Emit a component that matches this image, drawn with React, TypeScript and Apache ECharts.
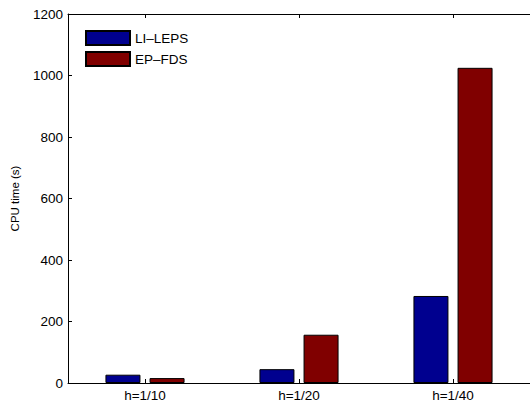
import React, { useEffect, useRef } from "react";
import * as echarts from "echarts";

const categories = ["h=1/10", "h=1/20", "h=1/40"];
const liLeps = [27, 45, 283];
const epFds = [16, 157, 1025];
const yTicks = { min: 0, max: 1200, interval: 200 };

export default function App() {
  const ref = useRef<HTMLDivElement>(null);
  useEffect(() => {
    if (!ref.current) return;
    const chart = echarts.init(ref.current, null, { renderer: "svg" });
    const font = "Liberation Sans, Arial, Helvetica, sans-serif";
    const axisLine = { show: true, lineStyle: { color: "#000", width: 1 } };
    chart.setOption({
      animation: false,
      backgroundColor: "#fff",
      textStyle: { fontFamily: font },
      grid: { left: 68, right: 0, top: 14, bottom: 22, outerBoundsMode: "none" },
      legend: {
        orient: "vertical",
        left: 80,
        top: 25,
        itemWidth: 44,
        itemHeight: 14,
        itemGap: 5,
        icon: "rect",
        textStyle: { fontSize: 13.5, color: "#000", fontFamily: font },
        data: ["LI\u2013LEPS", "EP\u2013FDS"],
      },
      xAxis: [
        {
          type: "category",
          data: categories,
          position: "bottom",
          axisLine,
          axisTick: { show: true, inside: true, alignWithLabel: true, length: 4, lineStyle: { color: "#000" } },
          axisLabel: { color: "#000", fontSize: 13.5, margin: 5, fontFamily: font },
        },
        {
          type: "category",
          data: categories,
          position: "top",
          axisLine,
          axisTick: { show: true, inside: true, alignWithLabel: true, length: 4, lineStyle: { color: "#000" } },
          axisLabel: { show: false },
        },
      ],
      yAxis: {
        type: "value",
        min: yTicks.min,
        max: yTicks.max,
        interval: yTicks.interval,
        name: "CPU time (s)",
        nameLocation: "middle",
        nameGap: 47,
        nameTextStyle: { color: "#000", fontSize: 11.5, fontFamily: font },
        axisLine,
        axisTick: { show: true, inside: true, length: 4, lineStyle: { color: "#000" } },
        axisLabel: { color: "#000", fontSize: 13.5, margin: 5, fontFamily: font, formatter: (v: number) => String(v) },
        splitLine: { show: false },
      },
      series: [
        {
          name: "LI\u2013LEPS",
          type: "bar",
          data: liLeps,
          barWidth: 35,
          barGap: "26%",
          itemStyle: { color: "#00008f", borderColor: "#000", borderWidth: 1 },
        },
        {
          name: "EP\u2013FDS",
          type: "bar",
          data: epFds,
          barWidth: 35,
          barGap: "26%",
          itemStyle: { color: "#800000", borderColor: "#000", borderWidth: 1 },
        },
      ],
    });
    return () => chart.dispose();
  }, []);
  return <div ref={ref} style={{ width: 530, height: 405, position: "absolute", left: 0, top: 0 }} />;
}
